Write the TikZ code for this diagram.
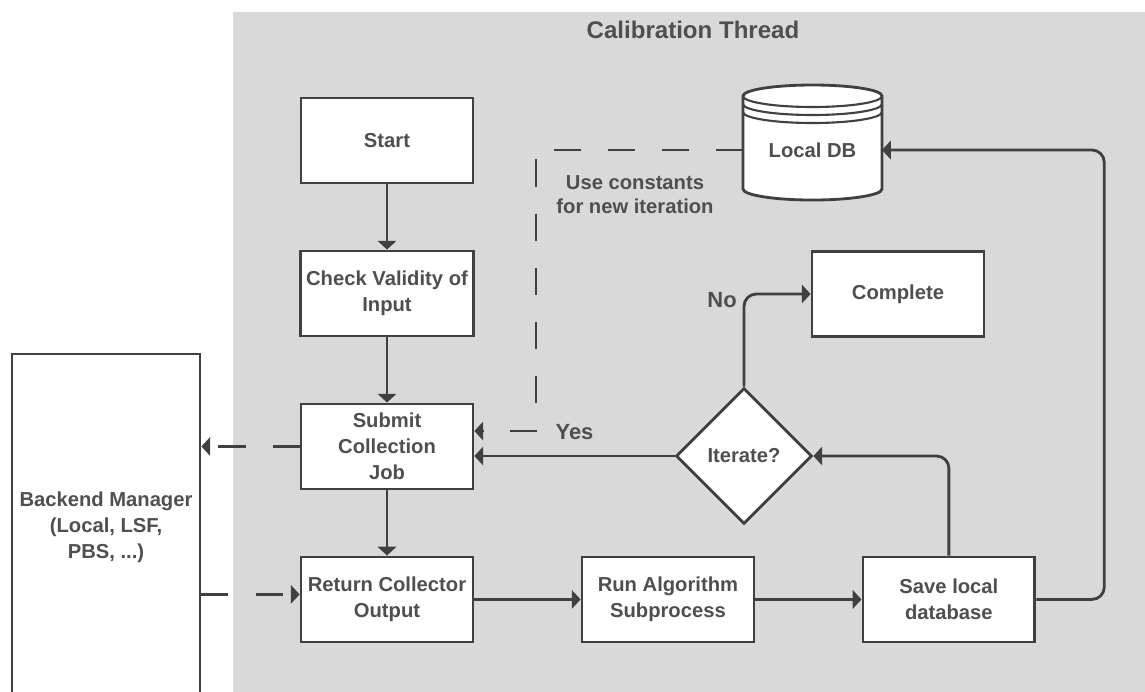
\documentclass[tikz,border=0pt]{standalone}
\usepackage{fontspec}
\setmainfont{Liberation Sans}
\usetikzlibrary{arrows.meta, positioning, shapes.geometric, calc}

\definecolor{panelgray}{HTML}{D9D9D9}
\definecolor{linegray}{HTML}{404040}
\definecolor{textgray}{HTML}{4F4F4F}

\begin{document}
\begin{tikzpicture}[x=0.02cm, y=-0.02cm, node distance=3.06cm and 5.62cm, on grid,
                >={Triangle[length=5pt, width=10.5pt]},
                box/.style={rectangle, draw=linegray, line width=1.6pt, fill=white,
                        minimum width=3.44cm, minimum height=1.7cm, align=center,
                        text=textgray, font=\fontsize{11.5}{14.8}\selectfont\bfseries},
                lbl/.style={text=textgray, align=center, font=\fontsize{11.5}{13.6}\selectfont\bfseries},
                flow/.style={->, color=linegray, line width=1.6pt},
                dashflow/.style={flow, dash pattern=on 15.4pt off 15.4pt}]
                \useasboundingbox (0,0) rectangle (1145,691);
                \fill[panelgray] (233,12) rectangle (1150,700);
                \node[lbl, font=\fontsize{13.7}{16}\selectfont\bfseries] (threadtitle) at (693,30) {Calibration Thread};

                \node[box] (start) at (387,140.5) {Start};
                \node[box] (check) [below=of start] {Check Validity of\\Input};
                \node[box] (submit) [below=of check] {Submit\\Collection\\Job};
                \node[box] (collect) [below=of submit] {Return Collector\\Output};
                \node[box] (algo) [right=of collect] {Run Algorithm\\Subprocess};
                \node[box] (save) [right=5.62cm of algo] {Save local\\database};
                \node[box] (done) at (898,294) {Complete};
                \node[box, diamond, minimum width=2.72cm, minimum height=2.72cm, inner sep=1pt] (iter) at (744,456) {Iterate?};
                \node[box, minimum width=3.76cm, minimum height=6.92cm] (backend) at (106,527) {Backend Manager\\(Local, LSF,\\PBS, ...)};

                % database drum with the two rings under its lid
                \filldraw[fill=white, draw=linegray, line width=1.6pt]
                (743,96) -- (743,189) arc[start angle=180, end angle=360, x radius=1.39cm, y radius=0.22cm]
                -- (882,96) arc[start angle=0, end angle=180, x radius=1.39cm, y radius=0.22cm] -- cycle;
                \foreach \ring in {96,104,112}
                        \draw[linegray, line width=1.2pt] (743,\ring) arc[start angle=180, end angle=360, x radius=1.39cm, y radius=0.22cm];
                \node[lbl, minimum width=2.78cm, outer sep=0pt] (localdb) at (812.5,150) {Local DB};
                \node[lbl] (note) at (635,195) {Use constants\\for new iteration};
                \coordinate (turn) at (536,431);

                \path[flow]
                (start) edge (check)
                (check) edge (submit)
                (submit) edge (collect)
                (collect) edge (algo)
                (algo) edge (save)
                (iter.west) edge node[lbl, above=5pt, font=\fontsize{12.5}{15}\selectfont\bfseries] {Yes} (iter.west -| submit.east);
                \draw[flow, rounded corners=7pt] (iter.north) |- node[lbl, pos=0.47, left, font=\fontsize{12.5}{15}\selectfont\bfseries] {No} (done.west);
                \draw[flow, rounded corners=7pt] (save.north) |- (iter.east);
                \draw[flow, rounded corners=7pt] (save.east) -- ++(68,0) |- (localdb.east);
                \draw[dashflow] (localdb.west) -| (turn) -- (turn -| submit.east);
                \draw[dashflow] (submit.west) -- (submit.west -| backend.east);
                \draw[dashflow] ($(backend.east |- collect.west)+(0,-5)$) -- ($(collect.west)+(0,-5)$);
        \end{tikzpicture}
\end{document}
